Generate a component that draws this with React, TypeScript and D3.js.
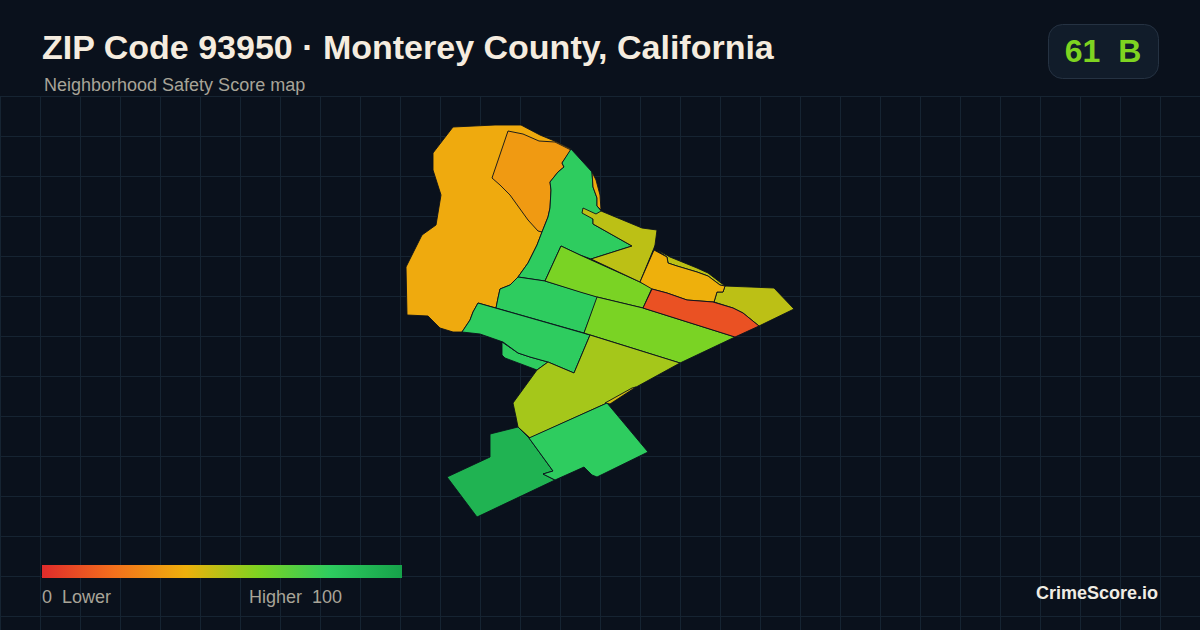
import React from 'react';
import * as d3 from 'd3';

type Pt = [number, number];

// map rings, in map units (0-400 square)
const westCoast: Pt[] = [[53,7],[95,5],[121,5],[140,15],[157,22],[171,29],[150,70],[142,112],[137,125],[128,143],[118,157],[110,165],[100,169],[98,178],[96,188],[78,183],[73,192],[70,200],[62,212],[53,212],[40,208],[28,196],[7,195],[6,147],[22,115],[36,105],[41,75],[33,50],[33,33]];
const northHill: Pt[] = [[108,11],[123,14],[139,21],[155,22],[171,30],[162,43],[164,47],[158,52],[150,62],[151,70],[150,88],[148,97],[142,112],[138,111],[128,100],[110,75],[100,65],[92,58]];
const northGreen: Pt[] = [[171,29],[192,52],[193,67],[197,78],[197,86],[202,92],[193,99],[193,104],[232,126],[191,139],[180,135],[161,126],[145,161],[118,157],[128,143],[137,125],[142,112],[148,97],[150,88],[151,70],[150,62],[158,52],[164,47],[162,43]];
const coastSliver: Pt[] = [[192,52],[196,60],[200,75],[201,90],[197,86],[197,78],[193,67]];
const oliveNorth: Pt[] = [[183,88],[196,94],[201,91],[242,108],[257,110],[255,125],[254,128],[240,162],[191,139],[232,126],[193,104],[193,99],[182,93]];
const limeNorth: Pt[] = [[161,126],[180,135],[240,162],[252,168],[243,188],[197,177],[180,172],[145,161]];
const midGreen: Pt[] = [[118,157],[145,161],[198,177],[184,213],[96,188],[98,178],[100,169],[110,165]];
const lowerGreen: Pt[] = [[78,183],[190,215],[174,253],[148,242],[130,237],[118,233],[103,222],[80,214],[62,212],[70,200],[73,192]];
const lowerGreenTail: Pt[] = [[102,222],[102,235],[105,238],[137,250],[148,242],[130,237],[118,233]];
const limeSouth: Pt[] = [[197,177],[243,188],[335,217],[280,243],[184,213]];
const redStrip: Pt[] = [[252,169],[267,173],[287,180],[313,182],[333,188],[343,193],[359,206],[335,217],[243,188]];
const amberCoast: Pt[] = [[254,130],[267,137],[268,143],[277,146],[297,152],[308,156],[320,165],[325,166],[323,172],[317,172],[314,182],[287,180],[267,173],[252,169],[240,162]];
const oliveEast: Pt[] = [[254,128],[270,137],[297,148],[308,153],[325,166],[374,168],[394,189],[359,206],[343,193],[333,188],[314,182],[317,172],[323,172],[325,166],[320,165],[308,156],[297,152],[277,146],[268,143],[267,137]];
const yellowGreen: Pt[] = [[190,215],[280,243],[207,283],[130,318],[118,307],[116,297],[113,283],[137,250],[148,242],[174,253]];
const yellowSliver: Pt[] = [[205,283],[232,268],[236,267],[210,284]];
const southGreen: Pt[] = [[207,283],[248,332],[197,357],[192,355],[184,347],[155,360],[143,354],[153,351],[129,318]];
const southDark: Pt[] = [[118,307],[129,318],[153,351],[143,354],[155,360],[77,397],[47,357],[90,337],[90,314]];

const rings: Pt[][] = [westCoast, northHill, northGreen, coastSliver, lowerGreenTail, midGreen, lowerGreen, limeNorth, oliveNorth, limeSouth, yellowGreen, yellowSliver, oliveEast, amberCoast, redStrip, southDark, southGreen];
const scores: number[] = [38, 33, 80, 38, 80, 80, 80, 61, 49, 61, 53, 45, 49, 40, 11, 92, 80];

const stopValues = [0, 20, 40, 60, 80, 100];
const stopColors = ['#e02b2b', '#f3701c', '#eeb00c', '#7ed321', '#2ecc5f', '#16a34a'];

const color = d3.scaleLinear<string>().domain(stopValues).range(stopColors).interpolate(d3.interpolateRgb);

const W = 1200;
const H = 630;
const mapX = d3.scaleLinear().domain([0, 400]).range([400, 800]);
const mapY = d3.scaleLinear().domain([0, 400]).range([120, 520]);
const legendX = d3.scaleLinear().domain([0, 100]).range([42, 402]);

const ringPath = d3.line<Pt>().x(d => mapX(d[0])).y(d => mapY(d[1])).curve(d3.curveLinearClosed);

const gridX = d3.range(0, W + 1, 40);
const gridY = d3.range(96, H + 1, 40);

const SANS = '"Liberation Sans", Arial, sans-serif';

export default function App() {
  return (
    <svg width={W} height={H} viewBox={`0 0 ${W} ${H}`} style={{ position: 'fixed', left: 0, top: 0, display: 'block' }} fontFamily={SANS}>
      <defs>
        <linearGradient id="legend-grad" x1="0" y1="0" x2="1" y2="0">
          {stopValues.map((v, i) => <stop key={v} offset={`${v}%`} stopColor={stopColors[i]} />)}
        </linearGradient>
      </defs>
      <rect width={W} height={H} fill="#0a111c" />
      <g stroke="#162432" strokeWidth={1}>
        {gridX.map(x => <line key={x} x1={x + 0.5} x2={x + 0.5} y1={96} y2={H} />)}
        {gridY.map(y => <line key={y} x1={0} x2={W} y1={y + 0.5} y2={y + 0.5} />)}
      </g>

      <text x={42} y={59} fontSize={34} fontWeight={700} fill="#f5ecdf">ZIP Code 93950 · Monterey County, California</text>
      <text x={44} y={91} fontSize={18} fill="#a8a498">Neighborhood Safety Score map</text>

      <rect x={1048.5} y={24.5} width={110} height={54} rx={14} fill="#111c2a" stroke="#253242" />
      <text x={1103} y={62} fontSize={32} fontWeight={700} fill="#7ed321" textAnchor="middle" style={{ whiteSpace: 'pre' }}>61  B</text>

      <g stroke="#0a111c" strokeWidth={0.9} strokeLinejoin="round">
        {rings.map((r, i) => <path key={i} d={ringPath(r) ?? ''} fill={color(scores[i])} />)}
      </g>

      <rect x={legendX(0)} y={565} width={legendX(100) - legendX(0)} height={13} fill="url(#legend-grad)" />
      <text x={legendX(0)} y={603} fontSize={18} fill="#a8a498" style={{ whiteSpace: 'pre' }}>0  Lower</text>
      <text x={249} y={603} fontSize={18} fill="#a8a498" style={{ whiteSpace: 'pre' }}>Higher  100</text>

      <text x={1158} y={599} fontSize={18} fontWeight={700} fill="#f0ece4" textAnchor="end">CrimeScore.io</text>
    </svg>
  );
}
